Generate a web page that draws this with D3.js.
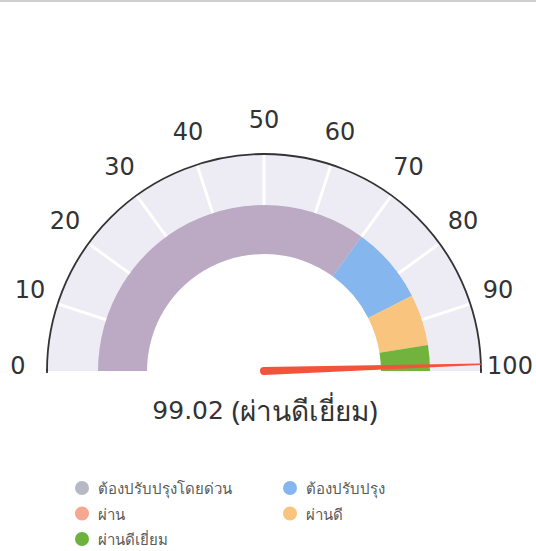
<!DOCTYPE html>
<html><head><meta charset="utf-8">
<script src="https://cdn.jsdelivr.net/npm/d3@7"></script>
<style>
html,body{margin:0;padding:0;background:#fff;}
svg{display:block;}
text{font-family:"Noto Sans","Open Sans",sans-serif;}
.num{font-family:"DejaVu Sans","Noto Sans",sans-serif;}
</style></head>
<body>
<svg id="chart" width="536" height="551"></svg>
<script>
// ---- data ----
const bandNames  = ["ต้องปรับปรุงโดยด่วน","ต้องปรับปรุง","ผ่าน","ผ่านดี","ผ่านดีเยี่ยม"];
const bandFrom   = [0, 70, 85, 85, 95];
const bandTo     = [70, 85, 85, 95, 100];
const bandColors = ["#bcaac5","#85b6ee","#f6a78f","#f9c47d","#72b33e"];
const legendColors = ["#b6b9c4","#85b6ee","#f6a78f","#f9c47d","#6cb23c"];
const tickValues = [0,10,20,30,40,50,60,70,80,90,100];
const score = 99.02;
const scoreLabel = "ผ่านดีเยี่ยม";

// ---- layout ----
const svg = d3.select("#chart");
const cx = 264, cy = 371;
const R = 217, bandOuter = 166, bandInner = 117;
const ang = d3.scaleLinear().domain([0,100]).range([-Math.PI/2, Math.PI/2]);

// scan line at top
svg.append("rect").attr("x",0).attr("y",0).attr("width",536).attr("height",2).attr("fill","#cfcfcf");

const g = svg.append("g").attr("transform",`translate(${cx},${cy})`);

// background
g.append("path")
  .attr("d", d3.arc()({innerRadius:bandInner, outerRadius:R, startAngle:ang(0), endAngle:ang(100)}))
  .attr("fill","#edebf3");

// bands
g.selectAll("path.band").data(bandNames.map((n,i)=>({n,from:bandFrom[i],to:bandTo[i],c:bandColors[i]})))
  .enter().append("path").attr("class","band")
  .attr("d", d=>d3.arc()({innerRadius:bandInner, outerRadius:bandOuter, startAngle:ang(d.from), endAngle:ang(d.to)}))
  .attr("fill", d=>d.c);

// ticks (white)
g.selectAll("line.tick").data(tickValues.filter(v=>v>0&&v<100)).enter().append("line")
  .attr("x1", v=>bandOuter*Math.sin(ang(v))).attr("y1", v=>-bandOuter*Math.cos(ang(v)))
  .attr("x2", v=>R*Math.sin(ang(v))).attr("y2", v=>-R*Math.cos(ang(v)))
  .attr("stroke","#ffffff").attr("stroke-width",3);

// outer border
g.append("path")
  .attr("d", d3.arc()({innerRadius:R, outerRadius:R, startAngle:ang(0), endAngle:ang(100)}))
  .attr("fill","none").attr("stroke","#333").attr("stroke-width",1.8);
g.append("line").attr("x1",-R).attr("x2",-R).attr("y1",-2).attr("y2",2).attr("stroke","#333").attr("stroke-width",1.8);
g.append("line").attr("x1",R).attr("x2",R).attr("y1",-2).attr("y2",2).attr("stroke","#333").attr("stroke-width",1.8);

// tick labels
const LR = 246;
g.selectAll("text.tl").data(tickValues).enter().append("text")
  .attr("class","num")
  .attr("x", v=>LR*Math.sin(ang(v)))
  .attr("y", v=>-LR*Math.cos(ang(v)) - 5)
  .attr("text-anchor","middle").attr("dominant-baseline","central")
  .attr("font-size",24).attr("fill","#333")
  .text(v=>v);

// needle
(function(){
  const a = ang(score);
  const ux = Math.sin(a), uy = -Math.cos(a);
  const px = -uy, py = ux;
  const w = 4;
  const tip = [R*ux, R*uy];
  const b1 = [px*w, py*w], b2 = [-px*w, -py*w];
  const p = `M${b1[0]},${b1[1]} L${tip[0]+px*0.7},${tip[1]+py*0.7} L${tip[0]-px*0.7},${tip[1]-py*0.7} L${b2[0]},${b2[1]} A${w},${w} 0 0 0 ${b1[0]},${b1[1]} Z`;
  g.append("path").attr("d",p).attr("fill","#f4533b");
})();

// value label
const vt = svg.append("text").attr("x",265).attr("y",410)
  .attr("text-anchor","middle").attr("dominant-baseline","central")
  .attr("fill","#333");
vt.append("tspan").attr("class","num").attr("font-size",25).text(`${score.toFixed(2)} `);
vt.append("tspan").attr("font-size",28).text(`(${scoreLabel})`);

// legend
const legX = [82, 290], legY0 = 488, legDy = 25.5;
const lg = svg.append("g");
bandNames.forEach((n,i)=>{
  const col = i%2, row = Math.floor(i/2);
  const x = legX[col], y = legY0 + row*legDy;
  lg.append("circle").attr("cx",x).attr("cy",y).attr("r",7).attr("fill",legendColors[i]);
  lg.append("text").attr("x",x+16).attr("y",y).attr("dominant-baseline","central")
    .attr("font-size",15).attr("fill","#5a5a5a").text(n);
});
</script>
</body></html>
